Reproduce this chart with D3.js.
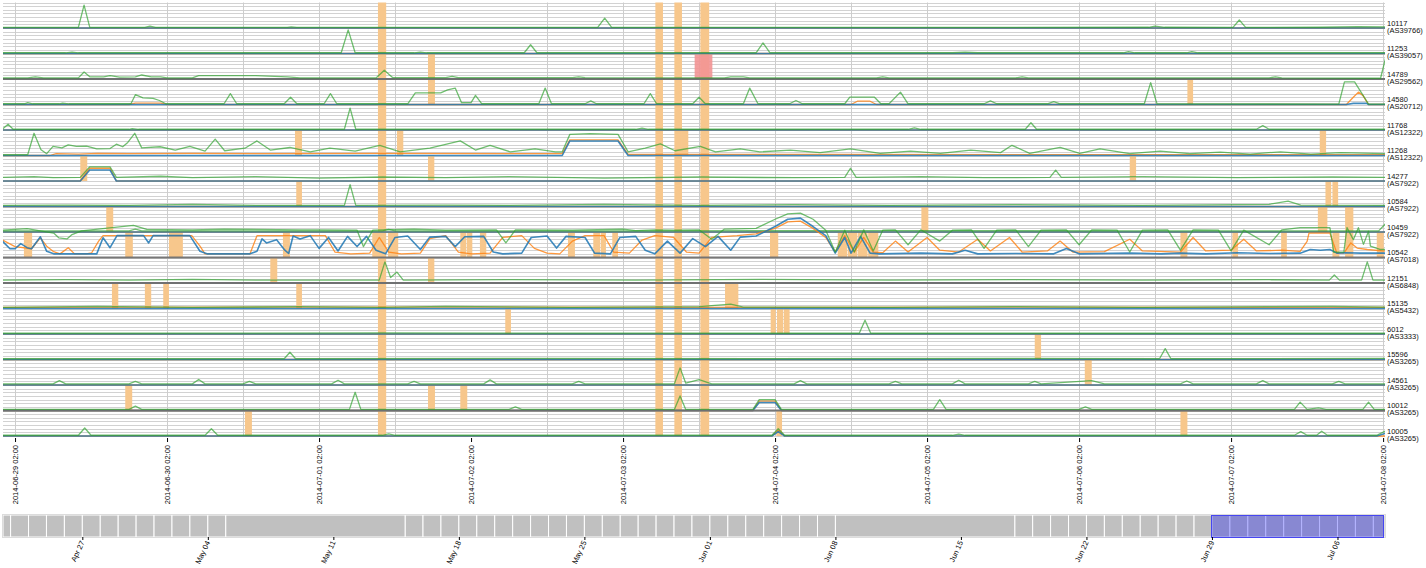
<!DOCTYPE html>
<html><head><meta charset="utf-8">
<script src="https://cdn.jsdelivr.net/npm/d3@7"></script>
<style>body{margin:0;background:#fff;} svg text{font-family:Arial,"Liberation Sans",sans-serif;}</style>
</head><body>
<svg id="c" width="1426" height="568"></svg>
<script>
// ---------------- DATA ----------------
const probeIds = ['10117','11253','14789','14580','11768','11268','14277','10584','10459','10542','12151','15135','6012','15596','14561','10012','10005'];
const asNumbers = ['AS39766','AS39057','AS29562','AS20712','AS12322','AS12322','AS7922','AS7922','AS7922','AS7018','AS6848','AS5432','AS3333','AS3265','AS3265','AS3265','AS3265'];
const dayTicks = ['2014-06-29 02:00','2014-06-30 02:00','2014-07-01 02:00','2014-07-02 02:00','2014-07-03 02:00','2014-07-04 02:00','2014-07-05 02:00','2014-07-06 02:00','2014-07-07 02:00','2014-07-08 02:00'];
const gridTimes = ['2014-06-29 02:00','2014-06-30 02:00','2014-06-30 14:00','2014-07-01 02:00','2014-07-01 14:00','2014-07-02 14:00','2014-07-03 02:00','2014-07-03 14:00','2014-07-04 02:00','2014-07-04 14:00','2014-07-05 02:00','2014-07-06 02:00','2014-07-06 14:00','2014-07-07 02:00','2014-07-08 02:00'];
const viewRange = ['2014-06-29 00:06','2014-07-08 02:18'];

// series: [hours since 2014-06-29 00:00, relative RTT]
const minRtt = [
 [[0,0],[218.5,0]],
 [[0,0],[218.5,0]],
 [[0,0],[218.5,0]],
 [[0,0],[212.2,0],[213.3,0.3],[215.4,0.3],[215.7,0],[218.5,0]],
 [[0,0],[218.5,0]],
 [[0,0],[88.4,0],[89.6,4.0],[97.2,4.0],[98.8,0],[218.5,0]],
 [[0,0],[12.3,0],[13.8,3.0],[17,3.0],[18,0],[218.5,0]],
 [[0,0],[218.5,0]],
 [[0,0],[218.5,0]],
 [[0,4.5],[1.2,2.4],[2.0,2.4],[2.9,3.8],[3.9,2.7],[4.6,2.4],[6.0,5.7],[7.0,1.7],[8.1,1.0],[14.9,1.0],[15.9,5.4],[17.0,2.7],[18.1,6.0],[22.3,6.0],[23.1,4.0],[23.8,6.0],[29.6,6.0],[31.2,1.7],[32.3,1.0],[39.1,1.0],[40.2,1.7],[41.0,5.1],[41.7,4.0],[43.3,4.9],[44.6,2.0],[45.2,1.1],[45.9,5.9],[47.0,5.1],
  [48.6,6.0],[50,2.5],[51.5,5.5],[53,1.8],[54.5,5.8],[56,3],[57.5,5.8],[59,2.0],[60.5,1.0],[62,5.5],[64,5.9],[66,2.2],[67.5,5.6],[70,5.8],[71.5,3.0],[73,5.7],[76,5.8],[77.5,1.5],[79,1.0],[82,1.2],[83.5,5.5],[86,5.9],[87.5,2.6],[89,5.8],[92,5.5],[93.5,1.2],[96,1.0],[97.5,5.5],[100,5.8],[101.5,2.0],[103,1.0],[105,4.5],[107,1.2],[109,5.2],[111,3.0],[113,5.8],[115,2.0],[116.5,5.6],[119,5.9],[122,8.5],[124,10.5],[126,10.8],[128,8.5],[130,6.0],[131.5,1.2],[133,5.5],[134,1.2],[135.5,5.8],[137,1.2],[138.5,1.0],[145,1.2],[150,1.0],[152,2.0],[154,1.0],[160,1.1],[166,1.0],[168,2.5],[170,1.0],[178,1.2],[183,1.0],[186,1.2],[190,1.0],[195,1.3],[200,1.1],
  [204.9,1.2],[206.5,2.2],[208.1,2.0],[209.6,2.2],[210.7,1.2],[212,1.3],[214.4,1.2],[218.5,1.2]],
 [[0,0],[218.5,0]],
 [[0,0],[218.5,0]],
 [[0,0],[218.5,0]],
 [[0,0],[218.5,0]],
 [[0,0],[218.5,0]],
 [[0,0],[118.5,0],[119.5,2.2],[122,2.2],[123,0],[218.5,0]],
 [[0,0],[121.5,0],[122.5,1.2],[123.5,0],[217,0],[218.5,0.8]]
];
const medianRtt = [
 [[0,0],[218.5,0]],
 [[0,0],[218.5,0]],
 [[0,0],[218.5,0]],
 [[0,0],[20,0],[21,0.4],[25,0.4],[26,0],[134,0],[135,0.9],[137,0.9],[138,0],[212.2,0],[213.3,2.0],[214.1,3.4],[214.8,2.5],[215.7,0],[218.5,0]],
 [[0,0],[218.5,0]],
 [[0,0],[7.5,0],[8.5,0.5],[12,0.4],[15,0.6],[20,0.5],[30,0.6],[40,0.5],[60,0.6],[80,0.5],[88.4,0.5],[89.6,4.3],[97.2,4.3],[98.8,0.3],[130,0.3],[160,0.2],[218.5,0.2]],
 [[0,0],[12.3,0],[13.8,3.5],[17,3.5],[18,0],[218.5,0]],
 [[0,0],[218.5,0]],
 [[0,0],[218.5,0]],
 [[0,4.8],[2,3],[4.6,2.4],[6.0,5.4],[7.0,3.1],[8.1,1.6],[9.1,1.0],[10.4,2.7],[11.4,1.0],[13.3,1.0],[14.1,1.3],[15.2,4.5],[15.9,6.0],[29.9,6.0],[31.2,3.1],[32.0,1.0],[39.1,1.0],[40.2,6.0],[47,6.0],
  [48,6.0],[51,6.0],[52.5,1.5],[55,1.0],[58,1.2],[59.5,5.5],[61,1.5],[63,1.0],[66,1.2],[67.5,5.2],[70,6.0],[72,1.5],[74,1.0],[77,1.2],[79,5.5],[82,6.0],[84,2.5],[86,1.2],[88,1.0],[90,4.5],[92,6.0],[95,6.0],[96.5,1.5],[99,1.2],[101,4.8],[103,6],[106,5.5],[108,1.5],[110,1.2],[112,5.5],[116,6.0],[119,6.5],[122,8.0],[124,9.8],[126,10.0],[128,8.0],[130,5.5],[131.5,1.5],[133,6.0],[134.5,1.5],[136,5.5],[137.5,1.5],[139,1.3],[141,4.5],[143,1.5],[146,5.5],[148,2.0],[151,1.5],[154,5.0],[156,1.8],[159,5.5],[161,1.5],[165,1.8],[167,4.5],[169,1.5],[174,1.6],[178,5.0],[180,1.8],[186,1.5],[188,5.5],[190,1.8],[194,2.0],[196,5.0],[198,1.8],[202,2.0],
  [204.9,1.7],[206,4.4],[206.3,6.7],[209.6,6.7],[210.7,1.2],[211.8,1.2],[212,1.7],[212.9,4.0],[213.9,2.6],[215.5,2.2],[218.5,1.7]],
 [[0,0],[218.5,0]],
 [[0,0.3],[60,0.4],[120,0.3],[160,0.4],[218.5,0.3]],
 [[0,0],[218.5,0]],
 [[0,0],[218.5,0]],
 [[0,0],[218.5,0]],
 [[0,0],[118.5,0],[119.5,2.6],[122,2.6],[123,0],[218.5,0]],
 [[0,0],[121.5,0],[122.5,1.6],[123.5,0],[218.5,0]]
];
const maxRtt = [
 [[0,0.15],[12,0.15],[12.9,6.3],[13.8,0.15],[22.5,0.15],[23.3,0.5],[24.2,0.15],[45,0.15],[45.6,0.3],[46.5,0.15],[94,0.15],[95.1,2.7],[96.2,0.15],[181,0.2],[182,0.5],[183.5,0.2],[194.3,0.15],[195.3,2.2],[196.3,0.15],[208,0.2],[214,0.4],[218.5,0.3]],
 [[0,0.2],[10,0.2],[11,0.4],[12,0.2],[53.5,0.2],[54.6,6.5],[55.7,0.2],[65,0.2],[66,0.4],[67,0.2],[82.4,0.2],[83.4,2.4],[84.4,0.2],[119,0.2],[120.1,2.9],[121.2,0.2],[150,0.2],[152,0.4],[154,0.2],[177,0.2],[177.8,0.5],[178.8,0.2],[187,0.2],[187.8,0.5],[188.8,0.2],[218.5,0.2]],
 [[0,0.3],[4,0.3],[5.2,0.6],[6.5,0.3],[12,0.3],[12.9,1.9],[13.8,0.6],[16,0.6],[17,0.9],[18.5,0.5],[21,0.6],[22,1.1],[23.5,0.6],[25,0.6],[26,0.3],[30,0.3],[31,0.9],[40,0.9],[45,0.6],[47,0.3],[59,0.3],[60.3,2.4],[61.6,0.4],[70,0.4],[71,0.7],[72,0.4],[90,0.4],[91,0.6],[92,0.4],[114,0.3],[115,0.6],[117,0.6],[118,0.3],[138,0.3],[139,0.6],[140,0.3],[160,0.3],[161,0.6],[162,0.3],[200,0.3],[201,0.6],[202,0.3],[217.6,0.2],[218.5,6.5]],
 [[0,0.2],[3.5,0.2],[4,0.5],[4.8,0.2],[9,0.2],[9.5,0.4],[10.5,0.2],[20.3,0.2],[21,2.7],[22.2,1.8],[23.8,1.7],[24.8,1.1],[25.8,0.2],[35,0.2],[36,3.0],[37,0.2],[44.5,0.2],[45.5,2],[46.5,0.2],[50.8,0.2],[51.8,3],[52.8,0.2],[64,0.2],[65.2,3.2],[69.2,3.2],[70.3,4],[71.5,4.5],[72.5,0.5],[74,0.5],[74.7,2.5],[75.7,0.2],[84.7,0.2],[85.7,4.5],[86.7,0.2],[92,0.2],[92.9,1],[93.8,0.2],[101.3,0.2],[102.3,3],[103.3,0.2],[109,0.2],[110,2],[111,0.2],[117,0.2],[118,4.5],[119.3,0.2],[124.3,0.2],[125.3,1.1],[126.3,0.2],[133,0.2],[133.8,2.0],[137.7,2.0],[138.7,0.2],[140,0.2],[141.8,3.4],[143,0.2],[155,0.2],[156,1],[157,0.2],[165,0.2],[166,0.8],[167,0.2],[180.3,0.2],[181.3,6],[182.3,0.2],[211,0.1],[211.9,6.2],[213.5,6.2],[215.7,0.1],[218.5,0.1]],
 [[0,0.2],[0.9,1.6],[1.7,0.2],[20,0.2],[20.5,0.4],[21.5,0.2],[54,0.2],[54.9,6],[55.8,0.2],[100,0.2],[101,0.5],[102,0.2],[143,0.2],[144,0.6],[145,0.2],[161.5,0.2],[162.4,2],[163.3,0.2],[198,0.2],[199,1.2],[200,0.2],[218.5,0.2]],
 [[0.1,0.2],[4.0,0.2],[5,6.1],[6.1,1.6],[7.0,0.5],[8.0,2.5],[9.4,2.1],[10.4,2.9],[11.7,2.5],[13.3,2.6],[14.9,1.8],[17.0,1.9],[18.0,3.1],[19.0,2.4],[19.8,3.6],[20.9,6.1],[22.0,2.1],[24.9,2.4],[27.3,1.5],[29.6,2.5],[32,1.2],[33.6,4.5],[35.1,1.3],[38.3,2],[40.2,4],[42.3,1.5],[45.4,2.2],[48.6,1],[51.7,2],[55.7,1.2],[59.6,2.8],[62.8,1],[67.5,2],[72.3,4],[74.7,1.5],[77,2.8],[80.2,1],[84.1,1.8],[87.3,1],[88.4,1],[89.6,5.8],[92.8,6.0],[97.2,5.8],[98.8,1.0],[101.5,2],[103.9,3.2],[106.2,1.3],[110.2,2.5],[112.6,1],[116.5,1.8],[119.6,1],[124.4,1.5],[129.1,0.8],[133.9,1.8],[138.6,0.6],[143.4,1.2],[148.1,0.6],[152.9,1.5],[157.6,0.8],[159.4,2.8],[162.2,0.6],[167,2.2],[170.1,0.6],[173.3,1.8],[178,0.5],[182.8,1.2],[187.5,0.5],[192.3,0.9],[197,0.4],[201.8,1],[206.6,0.4],[211.3,0.8],[218.3,0.5]],
 [[0,1.0],[5,1.2],[8,0.9],[12.3,1.0],[13.8,3.9],[17,3.9],[18,1.0],[25,1.3],[30,0.9],[40,1.2],[50,0.8],[60,1.1],[70,0.9],[80,1.2],[95,0.8],[110,1.1],[125,0.9],[133,1.0],[133.9,3.5],[134.8,1.0],[145,1.2],[155,0.9],[165.4,1.0],[166.3,3],[167.2,1.0],[180,1.2],[195,0.9],[210,1.1],[218.5,1.0]],
 [[0,0.3],[10,0.4],[20,0.3],[30,0.6],[40,0.3],[54,0.3],[54.9,6],[55.8,0.3],[70,0.4],[80,0.3],[95,0.6],[110,0.3],[125,0.5],[140,0.3],[160,0.5],[180,0.3],[200,0.6],[203,1.5],[205,0.4],[218.5,0.3]],
 [[0,0.3],[20,0.3],[21,0.8],[22,0.3],[60,0.3],[61,0.7],[62,0.3],[100,0.3],[140,0.4],[180,0.3],[217.3,0.3],[218.5,2.5]],
 [[0,7.5],[3.9,7.9],[8.1,6.7],[8.9,5.4],[10.2,5.1],[11,6.3],[12.5,7.3],[20.7,8.8],[22.8,7.7],[30,7.6],[35,7.8],[47,7.6],
  [50,7.6],[56,7.5],[57,3.0],[58.5,7.5],[65,7.8],[70,7.5],[78,7.6],[79.5,4.0],[81,7.6],[90,7.5],[98,7.8],[100,7.4],[103,7.6],[106,7.5],[110,7.6],[112,5.0],[114,7.8],[119,8.0],[122,10.5],[124,12.0],[126,12.2],[128,10.5],[130,7.5],[131.5,1.5],[133,7.5],[134.5,1.5],[136,7.6],[137.5,1.8],[139,7.5],[141,7.6],[143,3.5],[145,7.6],[148,4.5],[150,7.5],[153,7.6],[155,2.5],[157,7.5],[160,7.6],[162,3.0],[164,7.5],[168,7.6],[170,3.5],[172,7.6],[176,7.5],[178,1.5],[180,7.5],[184,7.6],[186,2.0],[188,7.6],[192,7.5],[194,1.8],[196,7.5],[200,3.5],[202,7.6],
  [204.9,8.2],[209.6,8.2],[210.2,1.5],[211.8,1.5],[212.3,8.2],[213.3,4.9],[214.1,8.2],[214.9,3.6],[215.7,7.2],[216,3.1],[217.5,2.2],[218.5,2.2]],
 [[0,0.8],[10,0.9],[20,0.8],[30,1.0],[40,0.8],[59.5,0.8],[60.4,5.8],[61.3,1.5],[62.3,3],[63.3,0.8],[80,0.9],[100,0.8],[120,1.0],[140,0.8],[160,0.9],[180,0.8],[200,0.9],[209.5,0.8],[210.3,2.2],[211.1,0.8],[214.6,0.8],[215.5,5.8],[216.4,0.8],[218.5,0.8]],
 [[0,0.3],[15,0.6],[30,0.3],[47,0.5],[60,0.3],[70,0.6],[90,0.3],[110,0.5],[115,1.2],[117,0.4],[140,0.3],[160,0.5],[180,0.3],[200,0.5],[210,0.6],[218.5,0.4]],
 [[0,0.2],[60,0.3],[120,0.2],[135.3,0.2],[136.2,3.8],[137.1,0.2],[218.5,0.2]],
 [[0,0.2],[44.5,0.2],[45.4,2],[46.3,0.2],[80,0.3],[120,0.2],[160,0.3],[182.7,0.2],[183.6,3],[184.5,0.2],[218.5,0.3]],
 [[0,0.3],[8,0.3],[9,1.2],[10,0.3],[20,0.3],[21,1.0],[22,0.3],[30,0.3],[31,1.5],[32,0.3],[38,0.3],[39,1.0],[40,0.3],[52,0.3],[53,1.3],[54,0.3],[64,0.3],[65,1.0],[66,0.3],[76,0.3],[77,1.4],[78,0.3],[90,0.3],[91,1.0],[92,0.3],[106.1,0.3],[107,4.7],[107.9,0.5],[110,1.5],[112,0.3],[125,0.3],[126,1.2],[127,0.3],[140,0.3],[141,1.0],[142,0.3],[150,0.3],[151,1.3],[152,0.3],[162,0.3],[163,1.0],[164,0.3],[172,1.2],[174,0.3],[186,0.3],[187,1.1],[188,0.3],[198,0.3],[199,1.2],[200,0.3],[210,0.3],[211,1.0],[212,0.3],[218.5,0.3]],
 [[0,0.3],[20,0.3],[21,1.2],[22,0.3],[54.8,0.3],[55.7,5],[56.6,0.3],[80,0.3],[81,1],[82,0.3],[106.1,0.3],[107,4],[107.9,0.3],[118.5,0.3],[119.5,3],[122,3],[123,0.3],[147,0.3],[148,3],[149,0.3],[170,0.3],[171,1],[172,0.3],[204,0.3],[204.9,2.3],[206,0.3],[207.8,0.7],[209,0.3],[214.8,0.3],[215.7,2.3],[216.6,0.3],[218.5,0.3]],
 [[0,0.2],[12,0.2],[13,2.2],[14,0.2],[32,0.2],[33,2],[34,0.2],[60,0.2],[61,0.6],[62,0.2],[121.5,0.2],[122.5,2],[123.5,0.2],[150,0.2],[151,0.5],[152,0.2],[204,0.2],[205,1.2],[206,0.2],[207.5,0.2],[208.3,1.3],[209.2,0.2],[217,0.2],[218.5,1.5]]
];
const refRtt = [[],[],[[0,0],[218.5,0]],[],[],[],[],[],[],[[0,0],[218.5,0]],[[0,0],[218.5,0]],[],[],[],[],[[0,0],[218.5,0]],[]];

// alarms: hours since 2014-06-29 00:00
const globalAlarms = [[59.3,60.6],[103.1,104.3],[106.1,107.3],[110.2,111.6]];
const probeAlarms = [
 [2,67.2,68.3],[3,67.2,68.3],[3,187.1,188.0],
 [5,46.2,47.3],[5,62.3,63.3],[5,107.3,108.3],[5,208.0,209.0],
 [6,12.3,13.4],[6,67.2,68.2],[6,178.0,179.0],
 [7,46.4,47.3],[7,208.9,209.8],[7,210.0,210.9],
 [8,16.4,17.5],[8,145.1,146.2],[8,207.7,209.2],[8,212.0,213.3],
 [9,3.4,4.7],[9,19.4,20.6],[9,26.3,28.5],[9,44.3,45.4],[9,58.4,59.6],[9,60.9,62.5],[9,72.3,73.2],[9,73.3,74.2],[9,75.4,76.4],[9,89.3,90.4],[9,93.3,94.4],[9,94.5,95.3],[9,96.3,97.2],[9,121.2,122.5],[9,131.9,133.4],[9,133.5,135.0],[9,135.1,136.6],[9,136.7,138.3],[9,186.0,187.1],[9,194.2,195.1],[9,201.9,202.8],[9,210.0,211.1],[9,212.0,213.3],[9,217.0,218.1],
 [10,42.3,43.4],[10,67.2,68.2],
 [11,17.3,18.3],[11,22.5,23.5],[11,25.4,26.3],[11,46.4,47.3],[11,114.1,116.2],
 [12,79.4,80.3],[12,121.3,122.1],[12,122.3,123.3],[12,123.4,124.3],
 [13,163.0,164.0],
 [14,170.9,172.0],
 [15,19.4,20.5],[15,67.2,68.3],[15,72.3,73.4],
 [16,38.3,39.4],[16,122.2,123.1],[16,186.0,187.1]
];
const severeAlarms = [[2,109.3,112.1]];

// overview (bottom) timeline
const overviewRange = ['2014-04-22 13:50','2014-07-08 15:36'];
const overviewDailyRuns = [['2014-04-22 00:00','2014-05-05 00:00'],['2014-05-15 00:00','2014-06-08 00:00'],['2014-06-18 00:00','2014-07-09 00:00']];
const overviewGapBlocks = [['2014-05-05 00:00','2014-05-15 00:00'],['2014-06-08 00:00','2014-06-18 00:00']];
const overviewSelection = ['2014-06-29 00:00','2014-07-08 13:00'];

// ---------------- DRAW ----------------
const parse = d3.utcParse('%Y-%m-%d %H:%M');
const base = Date.UTC(2014,5,29,0,0);
const at = h => new Date(base + h*3600e3);
const plot = {left:3, right:1385, top:2.5, bottom:436};
const svg = d3.select('#c');

const x = d3.scaleUtc().domain(viewRange.map(parse)).range([plot.left, plot.right]);
const rows = d3.scaleBand().domain(d3.range(probeIds.length)).range([plot.top, plot.bottom]);
const yScales = probeIds.map((p,i) => d3.scaleLinear().domain([0,7]).range([rows(i)+rows.bandwidth(), rows(i)]));

svg.append('defs').append('clipPath').attr('id','clip').append('rect')
  .attr('x',plot.left).attr('y',0).attr('width',plot.right-plot.left).attr('height',plot.bottom+4);

// grid
const grid = svg.append('g');
yScales.forEach(y => {
  grid.selectAll(null).data(y.ticks(7)).enter().append('line')
    .attr('x1',plot.left).attr('x2',plot.right)
    .attr('y1',d=>Math.round(y(d))+0.5).attr('y2',d=>Math.round(y(d))+0.5)
    .attr('stroke','#d2d2d2').attr('stroke-width',1);
});
grid.selectAll(null).data(gridTimes.map(parse)).enter().append('line')
  .attr('x1',d=>Math.round(x(d))+0.5).attr('x2',d=>Math.round(x(d))+0.5)
  .attr('y1',plot.top).attr('y2',plot.bottom)
  .attr('stroke','#cdcdcd').attr('stroke-width',1);

// alarms
const alarmFill = '#f7c78c';
const al = svg.append('g').attr('clip-path','url(#clip)');
al.selectAll(null).data(globalAlarms).enter().append('rect')
  .attr('x',d=>x(at(d[0]))).attr('width',d=>x(at(d[1]))-x(at(d[0])))
  .attr('y',plot.top).attr('height',plot.bottom-plot.top).attr('fill',alarmFill);
al.selectAll(null).data(probeAlarms).enter().append('rect')
  .attr('x',d=>x(at(d[1]))).attr('width',d=>x(at(d[2]))-x(at(d[1])))
  .attr('y',d=>rows(d[0])).attr('height',rows.bandwidth()).attr('fill',alarmFill);
al.selectAll(null).data(severeAlarms).enter().append('rect')
  .attr('x',d=>x(at(d[1]))).attr('width',d=>x(at(d[2]))-x(at(d[1])))
  .attr('y',d=>rows(d[0])+1).attr('height',rows.bandwidth()-1).attr('fill','#f29494').attr('fill-opacity',0.9);

// lines
const lg = svg.append('g').attr('clip-path','url(#clip)');
const seriesDefs = [
  {data:medianRtt, color:'#ff7f0e', width:1.3, op:0.8},
  {data:minRtt, color:'#1f77b4', width:1.6, op:0.85},
  {data:refRtt, color:'#707070', width:2, op:0.95},
  {data:maxRtt, color:'#2ca02c', width:1.3, op:0.68}
];
probeIds.forEach((p,i) => {
  const line = d3.line().x(d=>x(at(d[0]))).y(d=>yScales[i](d[1]));
  seriesDefs.forEach(s => {
    const pts = s.data[i];
    if (!pts || !pts.length) return;
    lg.append('path').attr('d',line(pts)).attr('fill','none')
      .attr('stroke',s.color).attr('stroke-width',s.width).attr('stroke-opacity',s.op)
      .attr('stroke-linejoin','round');
  });
});

// right labels
const lab = svg.append('g').attr('font-size','7.5px').attr('fill','#111');
probeIds.forEach((p,i) => {
  const b = rows(i)+rows.bandwidth();
  lab.append('text').attr('x',plot.right+2).attr('y',b-2.3).text(p);
  lab.append('text').attr('x',plot.right+2).attr('y',b+4.7).text('('+asNumbers[i]+')');
});

// main x axis
const xAxis = d3.axisBottom(x).tickValues(dayTicks.map(parse)).tickFormat(d3.utcFormat('%Y-%m-%d %H:%M')).tickSize(4);
const xg = svg.append('g').attr('transform',`translate(0,${plot.bottom+2})`).call(xAxis);
xg.select('.domain').remove();
xg.selectAll('line').attr('stroke','#000');
xg.selectAll('text').attr('font-size','7.5px').attr('fill','#000')
  .attr('transform','rotate(-90)').attr('text-anchor','end')
  .attr('x',-7).attr('y',0).attr('dy','0.35em');

// overview timeline
const ov = {top:515, bottom:537};
const ox = d3.scaleUtc().domain(overviewRange.map(parse)).range([plot.left, plot.right]);
const og = svg.append('g');
const clampX = v => Math.max(plot.left, Math.min(plot.right, v));
const cells = [];
overviewDailyRuns.forEach(r => {
  d3.utcDay.range(parse(r[0]), parse(r[1])).forEach(d => cells.push([d, d3.utcDay.offset(d,1)]));
});
overviewGapBlocks.forEach(r => cells.push([parse(r[0]), parse(r[1])]));
og.selectAll(null).data(cells.filter(c => ox(c[1]) > plot.left && ox(c[0]) < plot.right)).enter().append('rect')
  .attr('x',d=>clampX(ox(d[0]))).attr('width',d=>clampX(ox(d[1]))-clampX(ox(d[0])))
  .attr('y',ov.top).attr('height',ov.bottom-ov.top)
  .attr('fill','#c0c0c0').attr('stroke','#fff').attr('stroke-width',1);
og.append('rect').attr('x',plot.left-0.5).attr('y',ov.top-0.5).attr('width',plot.right-plot.left+1).attr('height',ov.bottom-ov.top+1)
  .attr('fill','none').attr('stroke','#dcdcdc');

const brush = d3.brushX().extent([[plot.left,ov.top],[plot.right,ov.bottom]]);
const bg = og.append('g').call(brush);
bg.call(brush.move, overviewSelection.map(s=>ox(parse(s))));
bg.select('.overlay').attr('fill','none');
bg.select('.selection').attr('fill','#0000ff').attr('fill-opacity',0.29).attr('stroke','#4646f0').attr('stroke-width',1);
bg.selectAll('.handle').attr('fill','none');

const oAxis = d3.axisBottom(ox).ticks(d3.utcSunday.every(1)).tickFormat(d3.utcFormat('%b %d')).tickSize(3);
const oag = svg.append('g').attr('transform',`translate(0,${ov.bottom})`).call(oAxis);
oag.select('.domain').remove();
oag.selectAll('line').attr('stroke','#000');
oag.selectAll('text').attr('font-size','7.5px').attr('fill','#000')
  .attr('transform','rotate(-65)').attr('text-anchor','end')
  .attr('x',-4).attr('y',4).attr('dy',0);
</script>
</body></html>
